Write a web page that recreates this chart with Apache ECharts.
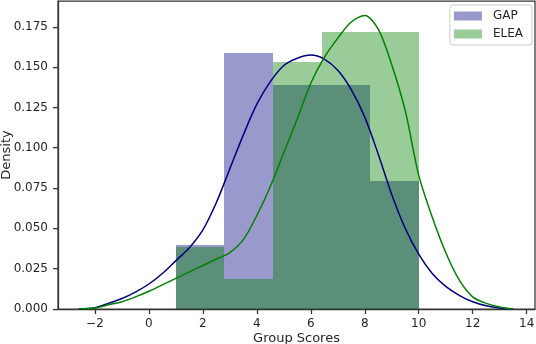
<!DOCTYPE html>
<html>
<head>
<meta charset="utf-8">
<script src="https://cdn.jsdelivr.net/npm/echarts@6/dist/echarts.min.js"></script>
<style>
  html, body { margin: 0; padding: 0; background: #fff; }
  #chart { width: 536px; height: 344px; }
</style>
</head>
<body>
<div id="chart"></div>
<script>
// histogram bins (density)
const binEdges = [1.0, 2.8, 4.6, 6.4, 8.2, 10.0];
const gapDensity = [0.0398, 0.159, 0.139, 0.139, 0.0795];
const eleaDensity = [0.0385, 0.0188, 0.153, 0.172, 0.172];

// kde curves
const kdeX = [-2.6, -2, -1.5, -1, -0.5, 0, 0.5, 1, 1.5, 2, 2.5, 3, 3.5, 4, 4.5, 5, 5.5, 6,
  6.5, 7, 7.5, 8, 8.5, 9, 9.5, 10, 10.5, 11, 11.5, 12, 12.5, 13, 13.5];
const gapKde = [0, 0.0008, 0.0035, 0.0065, 0.0105, 0.0155, 0.022, 0.030, 0.038, 0.049, 0.066,
  0.087, 0.108, 0.127, 0.141, 0.151, 0.1555, 0.1575, 0.155, 0.148, 0.136, 0.119, 0.096, 0.071,
  0.050, 0.034, 0.022, 0.014, 0.0085, 0.0045, 0.002, 0.0006, 0];
const eleaKde = [0, 0.0006, 0.0026, 0.0045, 0.0075, 0.011, 0.015, 0.019, 0.023, 0.027, 0.031,
  0.035, 0.043, 0.058, 0.076, 0.097, 0.118, 0.140, 0.156, 0.168, 0.178, 0.182, 0.1735, 0.1515,
  0.123, 0.083, 0.057, 0.035, 0.018, 0.0075, 0.0035, 0.0013, 0];

const xTicks = [-2, 0, 2, 4, 6, 8, 10, 12, 14];
const yTicks = [0, 0.025, 0.05, 0.075, 0.1, 0.125, 0.15, 0.175];

const font = 'DejaVu Sans';
const ink = '#262626';

function bins(dens) {
  return dens.map((d, i) => [binEdges[i], binEdges[i + 1], d]);
}
function pairs(ys) {
  return kdeX.map((x, i) => [x, ys[i]]);
}
function renderBar(params, api) {
  const p0 = api.coord([api.value(0), api.value(2)]);
  const p1 = api.coord([api.value(1), 0]);
  const x0 = Math.round(p0[0]), x1 = Math.round(p1[0]);
  const y0 = Math.round(p0[1]), y1 = Math.round(p1[1]);
  return {
    type: 'rect',
    shape: { x: x0, y: y0, width: x1 - x0, height: y1 - y0 },
    style: { fill: api.visual('color') }
  };
}

const chart = echarts.init(document.getElementById('chart'));
chart.setOption({
  animation: false,
  grid: {
    left: 58, right: 1, top: 1, bottom: 35,
    outerBoundsMode: 'none',
    containLabel: false,
    show: true, borderColor: '#333', borderWidth: 1.25, backgroundColor: 'transparent'
  },
  legend: {
    data: ['GAP', 'ELEA'],
    right: 4, top: 5,
    orient: 'vertical',
    icon: 'rect',
    itemWidth: 28, itemHeight: 9, itemGap: 6,
    padding: [5, 9, 5, 4],
    borderColor: '#ccc', borderWidth: 1, borderRadius: 3,
    backgroundColor: '#fff',
    textStyle: { fontFamily: font, fontSize: 12, color: ink, padding: [0, 0, 0, 6] }
  },
  xAxis: {
    type: 'value',
    min: -3.37, max: 14.31,
    name: 'Group Scores',
    nameLocation: 'middle',
    nameGap: 23,
    nameMoveOverlap: false,
    nameTextStyle: { fontFamily: font, fontSize: 13, color: ink },
    splitLine: { show: false },
    axisLine: { onZero: false, lineStyle: { color: '#333', width: 1.25 } },
    axisTick: { customValues: xTicks, length: 5, lineStyle: { color: '#333', width: 1.25 } },
    axisLabel: {
      customValues: xTicks,
      margin: 9,
      fontFamily: font, fontSize: 12, color: ink,
      formatter: v => (v < 0 ? '\u2212' + Math.abs(v) : String(v))
    }
  },
  yAxis: {
    type: 'value',
    min: 0, max: 0.191,
    name: 'Density',
    nameLocation: 'middle',
    nameGap: 45,
    nameMoveOverlap: false,
    nameTextStyle: { fontFamily: font, fontSize: 13, color: ink },
    splitLine: { show: false },
    axisLine: { show: true, onZero: false, lineStyle: { color: '#333', width: 1.25 } },
    axisTick: { show: true, customValues: yTicks, length: 5, lineStyle: { color: '#333', width: 1.25 } },
    axisLabel: {
      customValues: yTicks,
      margin: 10,
      fontFamily: font, fontSize: 12, color: ink,
      formatter: v => v.toFixed(3)
    }
  },
  series: [
    {
      name: 'GAP', type: 'custom', renderItem: renderBar,
      itemStyle: { color: 'rgba(0,0,128,0.4)' },
      encode: { x: [0, 1], y: 2 },
      data: bins(gapDensity), z: 1
    },
    {
      name: 'ELEA', type: 'custom', renderItem: renderBar,
      itemStyle: { color: 'rgba(0,128,0,0.4)' },
      encode: { x: [0, 1], y: 2 },
      data: bins(eleaDensity), z: 1
    },
    {
      name: 'GAP kde', type: 'line', data: pairs(gapKde),
      smooth: 0.3, showSymbol: false, z: 3,
      lineStyle: { color: '#000080', width: 1.5 }, itemStyle: { color: '#000080' }
    },
    {
      name: 'ELEA kde', type: 'line', data: pairs(eleaKde),
      smooth: 0.3, showSymbol: false, z: 3,
      lineStyle: { color: '#008000', width: 1.5 }, itemStyle: { color: '#008000' }
    }
  ]
});
</script>
</body>
</html>
